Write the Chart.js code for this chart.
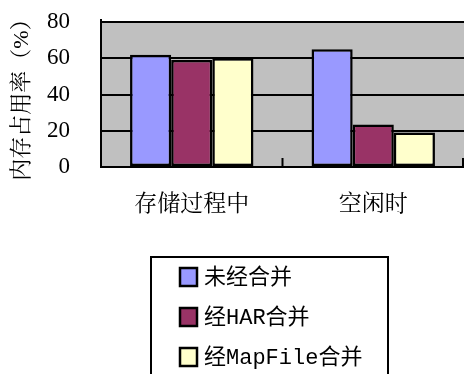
<!DOCTYPE html>
<html>
<head>
<meta charset="utf-8">
<script src="https://cdn.jsdelivr.net/npm/chart.js@4/dist/chart.umd.min.js"></script>
<style>
  html, body { margin: 0; padding: 0; background: #fff; }
  #wrap { width: 465px; height: 374px; position: relative; }
</style>
</head>
<body>
<div id="wrap"><canvas id="chart" width="465" height="374"></canvas></div>
<script>
var categories = ['存储过程中', '空闲时'];
var seriesNames = ['未经合并', '经HAR合并', '经MapFile合并'];
var noMerge = [62, 65];
var harMerge = [59, 23.5];
var mapFileMerge = [60, 19];
var yTicks = [0, 20, 40, 60, 80];
var colors = ['#9999ff', '#993366', '#ffffcc'];

var serifFont = "'Liberation Serif', 'Noto Serif CJK SC', 'Noto Sans CJK SC', serif";
var legendFont = "'Liberation Mono', 'Noto Sans CJK SC', monospace";

// gray plot background + inward ticks between categories
var plotBg = {
    id: 'plotBg',
    beforeDraw: function (chart) {
        var a = chart.chartArea, ctx = chart.ctx;
        ctx.save();
        ctx.fillStyle = '#c0c0c0';
        ctx.fillRect(a.left, a.top, a.right - a.left, a.bottom - a.top);
        ctx.restore();
    },
    afterDatasetsDraw: function (chart) {
        var a = chart.chartArea, ctx = chart.ctx, xs = chart.scales.x;
        var step = (xs.right - xs.left) / categories.length;
        ctx.save();
        ctx.strokeStyle = '#000';
        ctx.lineWidth = 2;
        for (var i = 1; i <= categories.length; i++) {
            var x = Math.min(xs.left + step * i, a.right - 1);
            ctx.beginPath();
            ctx.moveTo(x, a.bottom);
            ctx.lineTo(x, a.bottom - 9);
            ctx.stroke();
        }
        ctx.beginPath();
        ctx.moveTo(a.left, a.top - 3);
        ctx.lineTo(a.left, a.bottom);
        ctx.lineTo(a.right, a.bottom);
        ctx.stroke();
        ctx.restore();
    }
};

// boxed legend below the chart
var boxLegend = {
    id: 'boxLegend',
    afterDraw: function (chart) {
        var ctx = chart.ctx;
        ctx.save();
        ctx.strokeStyle = '#000';
        ctx.lineWidth = 2;
        ctx.strokeRect(151, 257, 237, 130);
        ctx.font = '22px ' + legendFont;
        ctx.textBaseline = 'middle';
        chart.data.datasets.forEach(function (ds, i) {
            var y = 277 + i * 40;
            ctx.fillStyle = ds.backgroundColor;
            ctx.fillRect(180, y - 9, 17, 18);
            ctx.lineWidth = 2.5;
            ctx.strokeRect(180, y - 9, 17, 18);
            ctx.fillStyle = '#000';
            ctx.fillText(ds.label, 204, y + 1);
        });
        ctx.restore();
    }
};

var datasets = [noMerge, harMerge, mapFileMerge].map(function (vals, i) {
    return {
        label: seriesNames[i],
        data: vals,
        backgroundColor: colors[i],
        borderColor: '#000',
        borderWidth: 2.5,
        borderSkipped: false,
        barPercentage: 1,
        categoryPercentage: 0.68
    };
});

var ctx = document.getElementById('chart');
var chart = new Chart(ctx, {
    type: 'bar',
    data: { labels: categories, datasets: datasets },
    plugins: [plotBg, boxLegend],
    options: {
        responsive: false,
        animation: false,
        layout: { padding: { top: 22, right: 1, left: 0, bottom: 0 } },
        plugins: {
            legend: { display: false },
            tooltip: { enabled: false }
        },
        scales: {
            x: {
                grid: { display: false },
                border: { display: false },
                ticks: { color: '#000', padding: 16, font: { size: 23, family: serifFont } },
                afterFit: function (s) { s.height = 207; s.paddingLeft = 0; s.paddingRight = 0; }
            },
            y: {
                min: 0,
                max: 80,
                afterBuildTicks: function (s) {
                    s.ticks = yTicks.map(function (v) { return { value: v }; });
                },
                grid: { color: '#000', lineWidth: 2, drawTicks: false },
                border: { display: false },
                ticks: { color: '#000', padding: 31, autoSkip: false, font: { size: 23, family: serifFont } },
                title: {
                    display: true,
                    text: '内存占用率（%）',
                    color: '#000',
                    padding: { top: 9, bottom: 0 },
                    font: { size: 22, family: serifFont }
                },
                afterFit: function (s) { s.width = 101; s.paddingTop = 0; s.paddingBottom = 0; }
            }
        }
    }
});
</script>
</body>
</html>
